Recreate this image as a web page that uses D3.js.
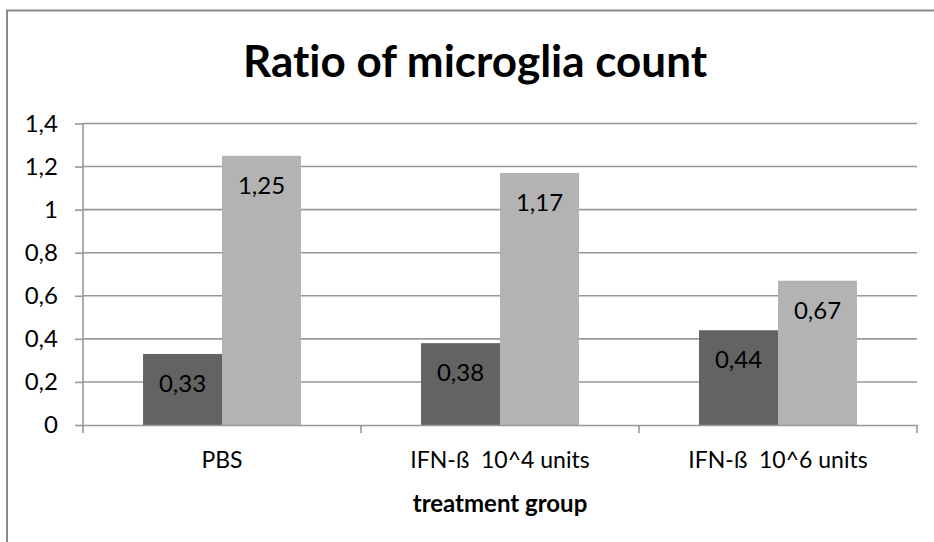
<!DOCTYPE html>
<html>
<head>
<meta charset="utf-8">
<script src="https://cdn.jsdelivr.net/npm/d3@7"></script>
<style>
  html, body { margin: 0; padding: 0; background: #ffffff; }
  svg { display: block; }
  text { font-family: Lato, "Open Sans", "DejaVu Sans", sans-serif; fill: #000; font-variant-ligatures: none; white-space: pre; }
</style>
</head>
<body>
<svg id="chart" width="934" height="542"></svg>
<script>
// Chart data
const categories = ["PBS", "IFN-ß  10^4 units", "IFN-ß  10^6 units"];
const seriesNames = ["first", "second"];
const firstValues = [0.33, 0.38, 0.44];
const secondValues = [1.25, 1.17, 0.67];
const yTickValues = [0, 0.2, 0.4, 0.6, 0.8, 1, 1.2, 1.4];
const titleText = "Ratio of microglia count";
const xAxisTitle = "treatment group";

const seriesColors = ["#636363", "#b3b3b3"];
const gridColor = "#989898";

const locale = d3.formatLocale({ decimal: ",", thousands: ".", grouping: [3], currency: ["", ""] });
const fmtTick = locale.format("~f");
const fmtValue = locale.format(".2f");

const svg = d3.select("#chart");

// Outer chart frame (top and left edges visible)
svg.append("path")
  .attr("d", "M7,542 L7,10.5 L934,10.5")
  .attr("fill", "none")
  .attr("stroke", "#8a8a8a")
  .attr("stroke-width", 2);

const plot = { left: 83, right: 917, top: 123.5, bottom: 425 };

const y = d3.scaleLinear().domain([0, 1.4]).range([plot.bottom, plot.top]);
const x0 = d3.scaleBand().domain(categories).range([plot.left, plot.right]).padding(0);
const x1 = d3.scaleBand().domain(seriesNames).range([0, x0.bandwidth()])
  .paddingInner(0).paddingOuter(0.76);

// Horizontal gridlines
svg.append("g").selectAll("line")
  .data(yTickValues.filter(v => v > 0))
  .join("line")
  .attr("x1", plot.left).attr("x2", plot.right)
  .attr("y1", d => y(d)).attr("y2", d => y(d))
  .attr("stroke", gridColor).attr("stroke-width", 1.6);

// Y axis
const yAxis = d3.axisLeft(y).tickValues(yTickValues).tickFormat(fmtTick).tickSize(8).tickPadding(17);
const gy = svg.append("g").attr("transform", `translate(${plot.left},0)`).call(yAxis);
gy.select(".domain").remove();
gy.selectAll(".tick line").attr("stroke", gridColor).attr("stroke-width", 1.6);
gy.selectAll(".tick text").attr("font-size", 24).attr("font-family", "Lato, sans-serif").attr("fill", "#000");
gy.append("line")
  .attr("x1", 0).attr("x2", 0).attr("y1", plot.top).attr("y2", plot.bottom + 8)
  .attr("stroke", gridColor).attr("stroke-width", 1.6);

// Bars
const rows = categories.map((c, i) => ({ category: c, values: [firstValues[i], secondValues[i]] }));
const groups = svg.append("g").selectAll("g")
  .data(rows)
  .join("g")
  .attr("transform", d => `translate(${x0(d.category)},0)`);

groups.selectAll("rect")
  .data(d => d.values.map((v, j) => ({ key: seriesNames[j], value: v, j })))
  .join("rect")
  .attr("x", d => x1(d.key))
  .attr("width", x1.bandwidth())
  .attr("y", d => y(d.value))
  .attr("height", d => y(0) - y(d.value))
  .attr("fill", d => seriesColors[d.j]);

// Value labels inside bar tops
groups.selectAll("text.value")
  .data(d => d.values.map((v, j) => ({ key: seriesNames[j], value: v })))
  .join("text")
  .attr("class", "value")
  .attr("x", d => x1(d.key) + x1.bandwidth() / 2)
  .attr("y", d => y(d.value) + 38)
  .attr("text-anchor", "middle")
  .attr("font-size", 24)
  .text(d => fmtValue(d.value));

// X axis baseline and category ticks
const xAxis = d3.axisBottom(x0).tickSize(0).tickPadding(30);
const gx = svg.append("g").attr("transform", `translate(0,${plot.bottom})`).call(xAxis);
gx.select(".domain").attr("stroke", gridColor).attr("stroke-width", 1.6);
gx.selectAll(".tick text").attr("font-size", 23).attr("font-family", "Lato, sans-serif").attr("fill", "#000")
  .attr("dy", "0").attr("y", 43);
gx.selectAll("line.sep")
  .data(categories)
  .join("line")
  .attr("class", "sep")
  .attr("x1", d => x0(d) + x0.bandwidth()).attr("x2", d => x0(d) + x0.bandwidth())
  .attr("y1", 0).attr("y2", 8)
  .attr("stroke", gridColor).attr("stroke-width", 1.6);

// Axis title
svg.append("text")
  .attr("x", 500).attr("y", 512)
  .attr("text-anchor", "middle")
  .attr("font-size", 24)
  .attr("font-weight", "bold")
  .text(xAxisTitle);

// Chart title
svg.append("text")
  .attr("x", 475).attr("y", 77)
  .attr("text-anchor", "middle")
  .attr("font-size", 44)
  .attr("font-weight", "bold")
  .text(titleText);
</script>
</body>
</html>
